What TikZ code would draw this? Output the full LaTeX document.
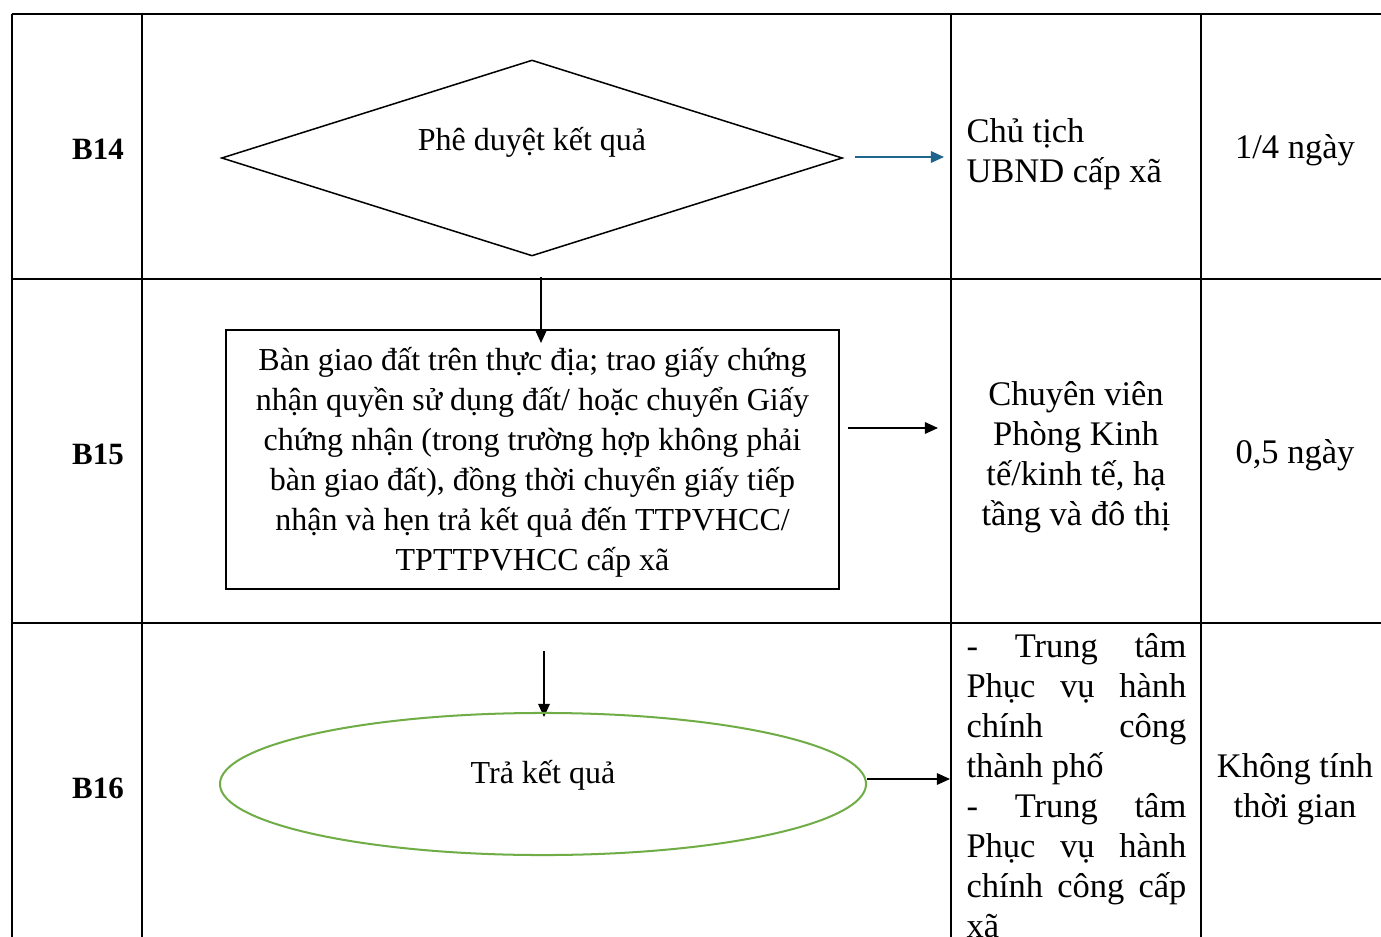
\documentclass[tikz,border=0pt]{standalone}
\usepackage{fontspec}
\setmainfont{Liberation Serif}
\usepackage{xcolor}
\usetikzlibrary{arrows.meta}
\usetikzlibrary{shapes.geometric}
\definecolor{arrowblue}{RGB}{31,100,140}
\definecolor{ovalgreen}{RGB}{112,173,71}
\newcommand{\jline}[1]{\makebox[87.3pt][s]{#1}}
\tikzset{
  tableline/.style={line width=0.85pt},
  flowline/.style={line width=0.55pt,-{Triangle[length=5.2pt,width=4.6pt]}},
  stepno/.style={font=\fontsize{12.3}{15.9}\selectfont\bfseries},
  cell/.style={font=\fontsize{13.7}{15.9}\selectfont,align=center,inner sep=0pt},
  flowtext/.style={font=\fontsize{12.7}{15.9}\selectfont,align=center,inner sep=0pt},
  decision/.style={diamond,draw,line width=0.6pt,minimum width=246.5pt,minimum height=77.8pt,inner sep=0pt},
  process/.style={rectangle,draw,line width=0.6pt,minimum width=243.4pt,minimum height=102.8pt,inner sep=0pt},
  terminal/.style={ellipse,draw=ovalgreen,line width=0.8pt,minimum width=256.5pt,minimum height=56.4pt,inner sep=0pt}
}
\begin{document}
\begin{tikzpicture}[x=0.397pt,y=-0.397pt]
\useasboundingbox[fill=white] (0,0) rectangle (1381,937);
\draw[tableline] (12,14) -- (1395,14);
\draw[tableline] (12,279) -- (1395,279);
\draw[tableline] (12,623) -- (1395,623);
\foreach \xc in {12,142,951,1201}
  \draw[tableline] (\xc,14) -- (\xc,950);

\node[stepno] (b14) at (98,149) {B14};
\node[stepno] (b15) at (98,454) {B15};
\node[stepno] (b16) at (98,788) {B16};

\node[decision] (approve) at (532,158) {};
\node[flowtext] (approvetxt) at (532,142) {Phê duyệt kết quả};
\node[cell,align=left,anchor=west] (chairman) at (966,154) {Chủ tịch\\UBND cấp xã};
\node[cell] (t14) at (1295,150) {1/4 ngày};
\coordinate (out14a) at (855,157);
\coordinate (out14b) at (944,157);
\draw[flowline,arrowblue] (out14a) -- (out14b);

\coordinate (in15) at (541,277);
\coordinate (tip15) at (541,343);
\draw[flowline] (in15) -- (tip15);
\node[process] (handover) at (532.5,459.5) {};
\node[flowtext] (handovertxt) at (532.5,462) {Bàn giao đất trên thực địa; trao giấy chứng\\nhận quyền sử dụng đất/ hoặc chuyển Giấy\\chứng nhận (trong trường hợp không phải\\bàn giao đất), đồng thời chuyển giấy tiếp\\nhận và hẹn trả kết quả đến TTPVHCC/\\TPTTPVHCC cấp xã};
\node[cell] (officer) at (1076,457) {Chuyên viên\\Phòng Kinh\\tế/kinh tế, hạ\\tầng và đô thị};
\node[cell] (t15) at (1295,455) {0,5 ngày};
\coordinate (out15a) at (848,428);
\coordinate (out15b) at (938,428);
\draw[flowline] (out15a) -- (out15b);

\coordinate (in16) at (544,651);
\coordinate (tip16) at (544,717);
\draw[flowline] (in16) -- (tip16);
\node[terminal] (result) at (543,784) {};
\node[flowtext] (resulttxt) at (543,775) {Trả kết quả};
\coordinate (out16) at (950,779);
\draw[flowline] (result.east |- out16) -- (out16);
\node[cell,align=left,anchor=north west] (centres) at (966,633) {\jline{- Trung tâm}\\\jline{Phục vụ hành}\\\jline{chính công}\\thành phố\\\jline{- Trung tâm}\\\jline{Phục vụ hành}\\\jline{chính công cấp}\\xã};
\node[cell] (t16) at (1295,789) {Không tính\\thời gian};
\end{tikzpicture}
\end{document}
